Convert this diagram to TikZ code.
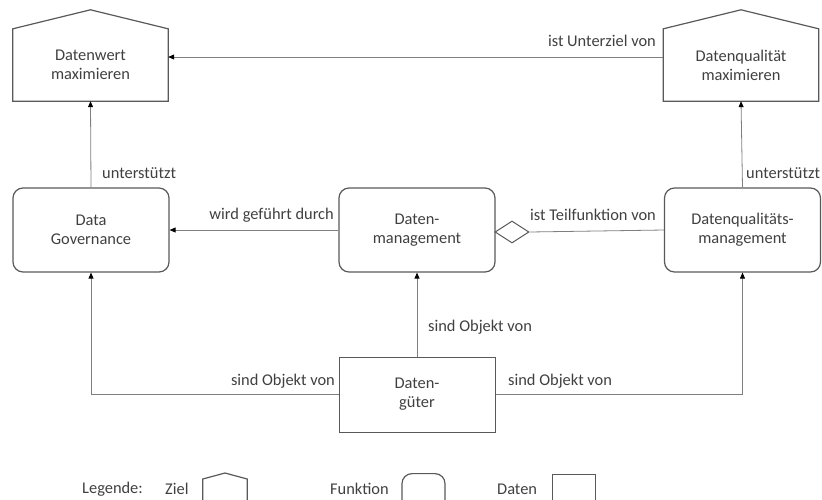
\documentclass[tikz,border=0pt]{standalone}
\usepackage{fontspec}
\setmainfont{Carlito}
\usetikzlibrary{arrows.meta,shapes.geometric}
\definecolor{txt}{HTML}{404040}
\definecolor{boxline}{HTML}{595959}
\definecolor{conn}{HTML}{7F7F7F}
\begin{document}
\begin{tikzpicture}[x=1pt,y=-1pt,
  every node/.style={font=\fontsize{16.4}{19}\selectfont, text=txt, align=center},
  body/.style={draw=none, minimum width=155pt, minimum height=72pt, inner sep=0pt},
  func/.style={draw=boxline, line width=1.2pt, rounded corners=10pt, minimum width=156pt, minimum height=84pt, inner sep=0pt},
  datbox/.style={draw=boxline, line width=1pt, minimum width=156pt, minimum height=75pt, inner sep=0pt},
  roof/.style={draw=boxline, line width=1.2pt, line join=miter},
  conline/.style={draw=conn, line width=0.8pt},
  arr/.style={conline, -{Triangle[length=6pt,width=5pt,fill=black,color=black]}},
  lbl/.style={inner sep=1pt}
]
\useasboundingbox (0,0) rectangle (822,499);
\clip (0,0) rectangle (822,499);

% goal houses
\node[body] (hl) at (90.5,65) {Datenwert\\maximieren};
\draw[roof] (hl.south west) -- (hl.north west) -- ([yshift=19pt]hl.north) -- (hl.north east) -- (hl.south east) -- cycle;
\node[body] (hr) at (741,65) {Datenqualität\\maximieren};
\draw[roof] (hr.south west) -- (hr.north west) -- ([yshift=19pt]hr.north) -- (hr.north east) -- (hr.south east) -- cycle;

% functions
\node[func] (dg) at (91,230) {Data\\Governance};
\node[func] (dm) at (417,230) {Daten-\\management};
\node[func] (dq) at (742.5,230) {Datenqualitäts-\\management};

% data
\node[datbox] (dgut) at (417,394.5) {Daten-\\güter};

% diamond
\node[draw=boxline, line width=1pt, diamond, inner sep=0pt, minimum width=34pt, minimum height=22pt] (dia) at (512,232) {};

% connectors
\draw[arr] ([yshift=8pt]hr.west) -- ([yshift=8pt]hl.east);
\draw[arr] (dg.north) -- (hl.south);
\draw[arr] (dq.north) -- (hr.south);
\draw[arr] (dm.west) -- (dg.east);
\draw[conline] (dia.east) -- (dq.west);
\draw[arr] (dgut.north) -- (dm.south);
\draw[arr] (dgut.west) -| (dg.south);
\draw[arr] (dgut.east) -| (dq.south);

% labels
\node[lbl, anchor=east] (l1) at (657,41) {ist Unterziel von};
\node[lbl, anchor=west] (l2) at (101,173) {unterstützt};
\node[lbl, anchor=west] (l3) at (745,173) {unterstützt};
\node[lbl, anchor=east] (l4) at (335,215) {wird geführt durch};
\node[lbl, anchor=west] (l5) at (529,215) {ist Teilfunktion von};
\node[lbl, anchor=west] (l6) at (427,327) {sind Objekt von};
\node[lbl, anchor=east] (l7) at (336,381) {sind Objekt von};
\node[lbl, anchor=west] (l8) at (507,381) {sind Objekt von};

% legend
\node[lbl, anchor=west] (lg) at (81,489) {Legende:};
\node[lbl, anchor=west] (lz) at (164,489) {Ziel};
\node[body, minimum width=44pt, minimum height=30pt, anchor=north] (lzh) at (225,479) {};
\draw[roof] (lzh.south west) -- (lzh.north west) -- ([yshift=6pt]lzh.north) -- (lzh.north east) -- (lzh.south east);
\node[lbl, anchor=west] (lf) at (329,489) {Funktion};
\node[func, minimum width=43pt, minimum height=50pt, anchor=north] (lfb) at (423.5,473) {};
\node[lbl, anchor=west] (ld) at (496,489) {Daten};
\node[datbox, minimum width=43pt, minimum height=50pt, anchor=north] (ldb) at (573.5,474) {};
\end{tikzpicture}
\end{document}
